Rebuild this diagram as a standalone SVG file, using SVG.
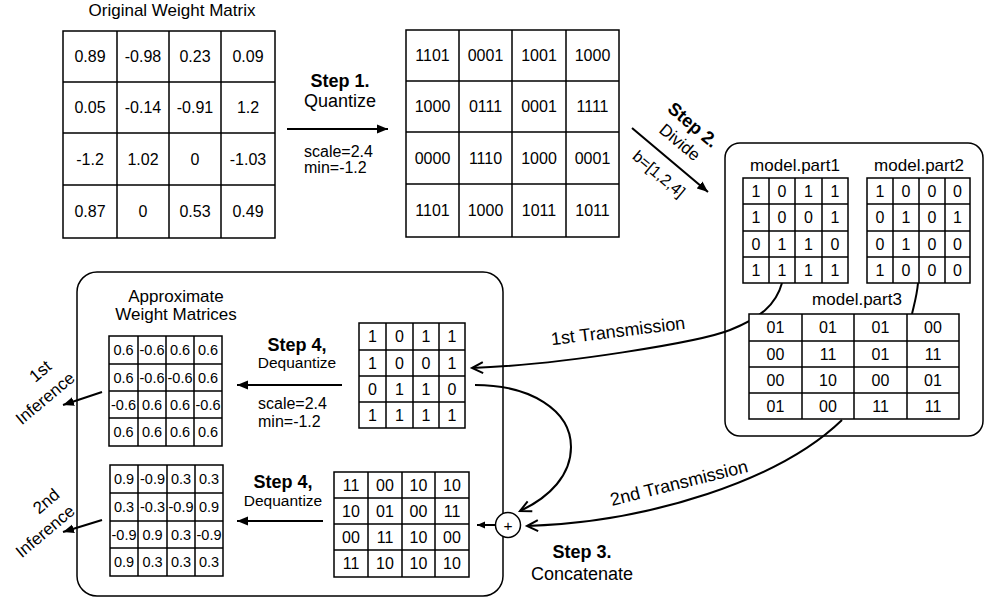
<svg xmlns="http://www.w3.org/2000/svg" width="985" height="601" viewBox="0 0 985 601">
<style>
text { font-family: "Liberation Sans", Arial, sans-serif; fill: #000; text-anchor: middle; }
.b { font-weight: bold; }
.s16 { font-size: 16px; }
.s15 { font-size: 15.5px; }
.s14 { font-size: 14.5px; }
.s17 { font-size: 17px; }
.s18 { font-size: 18px; }
.st { text-anchor: start; }
.cell { fill: #fff; stroke: #000; stroke-width: 1.5; }
.grid { fill: none; stroke: #000; stroke-width: 1.5; }
.box { fill: none; stroke: #000; stroke-width: 1.5; }
.ln { fill: none; stroke: #000; stroke-width: 2; }
</style>
<defs>
<marker id="fa" viewBox="-11 -5 12 10" refX="0" refY="0" markerWidth="12" markerHeight="10" markerUnits="userSpaceOnUse" orient="auto">
<path d="M-11,-4.5 L0,0 L-11,4.5 Z" fill="#000"/>
</marker>
<marker id="fs" viewBox="-8 -4 9 8" refX="0" refY="0" markerWidth="9" markerHeight="8" markerUnits="userSpaceOnUse" orient="auto">
<path d="M-8,-3.5 L0,0 L-8,3.5 Z" fill="#000"/>
</marker>
<marker id="oa" viewBox="-13 -7 15 14" refX="0" refY="0" markerWidth="15" markerHeight="14" markerUnits="userSpaceOnUse" orient="auto" overflow="visible">
<path d="M-11,-5.5 L0,0 L-11,5.5" fill="none" stroke="#000" stroke-width="2"/>
</marker>
</defs>
<rect width="985" height="601" fill="#fff"/>

<g id="box-receiver"><rect class="box" x="77" y="272" width="426" height="324" rx="20"/></g>
<g id="box-parts"><rect class="box" x="725" y="143" width="258" height="293" rx="15"/></g>

<g id="connectors">
<path class="ln" d="M287,129 L388,129" marker-end="url(#fa)"/>
<path class="ln" d="M632,128 L708,192" marker-end="url(#fa)"/>
<path class="ln" d="M782,283 C776,305 760,318 730,330 S560,365 472,368" marker-end="url(#oa)"/>
<path class="ln" d="M918,283 C917,295 914,305 912,314"/>
<path class="ln" d="M842,420 C780,480 650,522 527,526" marker-end="url(#oa)"/>
<path class="ln" d="M475,385 C530,385 571,410 571,447 C571,475 550,497 520,511" marker-end="url(#oa)"/>
<path class="ln" d="M342,385 L237,385" marker-end="url(#fa)"/>
<path class="ln" d="M323,521 L237,521" marker-end="url(#fa)"/>
<path class="ln" d="M495,525 L477,525" marker-end="url(#fs)"/>
<path class="ln" d="M102,392 L63,405" marker-end="url(#fa)"/>
<path class="ln" d="M102,520 L63,532" marker-end="url(#fa)"/>
</g>

<g id="labels">
<text class="s17" x="172" y="16">Original Weight Matrix</text>
<text class="s18 b" x="340" y="87">Step 1.</text>
<text class="s18" x="340" y="107">Quantize</text>
<text class="s16 st" x="304" y="157">scale=2.4</text>
<text class="s16 st" x="304" y="173">min=-1.2</text>
<text class="s18 b" transform="translate(693,125) rotate(40)" y="6">Step 2.</text>
<text class="s17" transform="translate(680,142) rotate(40)" y="6">Divide</text>
<text class="s16" transform="translate(659,174) rotate(40)" y="5.5">b=[1,2,4]</text>
<text class="s17" x="795" y="171">model.part1</text>
<text class="s17" x="919" y="171">model.part2</text>
<text class="s17" x="857" y="305">model.part3</text>
<text class="s18" transform="translate(618,331) rotate(-7)" y="6">1st Transmission</text>
<text class="s18" transform="translate(679,483) rotate(-14)" y="6">2nd Transmission</text>
<text class="s18 b" x="582" y="558">Step 3.</text>
<text class="s18" x="582" y="580">Concatenate</text>
<text class="s17" x="176" y="302">Approximate</text>
<text class="s17" x="176" y="320">Weight Matrices</text>
<text class="s18 b" x="297" y="351">Step 4,</text>
<text class="s15" x="297" y="368">Dequantize</text>
<text class="s16 st" x="258" y="409">scale=2.4</text>
<text class="s16 st" x="258" y="427">min=-1.2</text>
<text class="s18 b" x="283" y="488">Step 4,</text>
<text class="s15" x="283" y="506">Dequantize</text>
<text class="s17" transform="translate(40,371) rotate(-40)" y="6">1st</text>
<text class="s17" transform="translate(45,398) rotate(-40)" y="6">Inference</text>
<text class="s17" transform="translate(46,501) rotate(-40)" y="6">2nd</text>
<text class="s17" transform="translate(45,531) rotate(-40)" y="6">Inference</text>
</g>

<g id="plus">
<circle cx="508" cy="525" r="12.5" fill="#fff" stroke="#000" stroke-width="1.5"/>
<text class="s15" x="508" y="530.5">+</text>
</g>

<g id="matrix-original" class="s16">
<rect class="cell" x="63" y="31" width="212" height="207"/>
<path class="grid" d="M117,31V238 M169,31V238 M221,31V238 M63,82H275 M63,133H275 M63,185H275"/>
<text x="90" y="62">0.89</text><text x="143" y="62">-0.98</text><text x="195" y="62">0.23</text><text x="248" y="62">0.09</text>
<text x="90" y="113">0.05</text><text x="143" y="113">-0.14</text><text x="195" y="113">-0.91</text><text x="248" y="113">1.2</text>
<text x="90" y="164.5">-1.2</text><text x="143" y="164.5">1.02</text><text x="195" y="164.5">0</text><text x="248" y="164.5">-1.03</text>
<text x="90" y="217">0.87</text><text x="143" y="217">0</text><text x="195" y="217">0.53</text><text x="248" y="217">0.49</text>
</g>

<g id="matrix-quantized" class="s16">
<rect class="cell" x="406" y="30" width="213" height="207"/>
<path class="grid" d="M459,30V237 M512,30V237 M566,30V237 M406,81H619 M406,132H619 M406,184H619"/>
<text x="432.5" y="61">1101</text><text x="485.5" y="61">0001</text><text x="539" y="61">1001</text><text x="592.5" y="61">1000</text>
<text x="432.5" y="112">1000</text><text x="485.5" y="112">0111</text><text x="539" y="112">0001</text><text x="592.5" y="112">1111</text>
<text x="432.5" y="163.5">0000</text><text x="485.5" y="163.5">1110</text><text x="539" y="163.5">1000</text><text x="592.5" y="163.5">0001</text>
<text x="432.5" y="216">1101</text><text x="485.5" y="216">1000</text><text x="539" y="216">1011</text><text x="592.5" y="216">1011</text>
</g>

<g id="model-part1" class="s16">
<rect class="cell" x="743" y="178" width="105" height="105"/>
<path class="grid" d="M769,178V283 M795,178V283 M822,178V283 M743,204H848 M743,231H848 M743,257H848"/>
<text x="756" y="196.6">1</text><text x="782" y="196.6">0</text><text x="808.5" y="196.6">1</text><text x="835" y="196.6">1</text>
<text x="756" y="223">1</text><text x="782" y="223">0</text><text x="808.5" y="223">0</text><text x="835" y="223">1</text>
<text x="756" y="249.6">0</text><text x="782" y="249.6">1</text><text x="808.5" y="249.6">1</text><text x="835" y="249.6">0</text>
<text x="756" y="275.6">1</text><text x="782" y="275.6">1</text><text x="808.5" y="275.6">1</text><text x="835" y="275.6">1</text>
</g>

<g id="model-part2" class="s16">
<rect class="cell" x="867" y="178" width="103" height="105"/>
<path class="grid" d="M893,178V283 M919,178V283 M945,178V283 M867,204H970 M867,231H970 M867,257H970"/>
<text x="880" y="196.6">1</text><text x="906" y="196.6">0</text><text x="932" y="196.6">0</text><text x="957.5" y="196.6">0</text>
<text x="880" y="223">0</text><text x="906" y="223">1</text><text x="932" y="223">0</text><text x="957.5" y="223">1</text>
<text x="880" y="249.6">0</text><text x="906" y="249.6">1</text><text x="932" y="249.6">0</text><text x="957.5" y="249.6">0</text>
<text x="880" y="275.6">1</text><text x="906" y="275.6">0</text><text x="932" y="275.6">0</text><text x="957.5" y="275.6">0</text>
</g>

<g id="model-part3" class="s16">
<rect class="cell" x="749" y="314" width="210" height="105"/>
<path class="grid" d="M802,314V419 M854,314V419 M907,314V419 M749,341H959 M749,367H959 M749,393H959"/>
<text x="775.5" y="333">01</text><text x="828" y="333">01</text><text x="880.5" y="333">01</text><text x="933" y="333">00</text>
<text x="775.5" y="359.5">00</text><text x="828" y="359.5">11</text><text x="880.5" y="359.5">01</text><text x="933" y="359.5">11</text>
<text x="775.5" y="385.5">00</text><text x="828" y="385.5">10</text><text x="880.5" y="385.5">00</text><text x="933" y="385.5">01</text>
<text x="775.5" y="411.5">01</text><text x="828" y="411.5">00</text><text x="880.5" y="411.5">11</text><text x="933" y="411.5">11</text>
</g>

<g id="received-part1" class="s16">
<rect class="cell" x="359" y="323" width="106" height="105"/>
<path class="grid" d="M386,323V428 M413,323V428 M439,323V428 M359,350H465 M359,376H465 M359,402H465"/>
<text x="372.5" y="342">1</text><text x="399.5" y="342">0</text><text x="426" y="342">1</text><text x="452" y="342">1</text>
<text x="372.5" y="368.5">1</text><text x="399.5" y="368.5">0</text><text x="426" y="368.5">0</text><text x="452" y="368.5">1</text>
<text x="372.5" y="394.5">0</text><text x="399.5" y="394.5">1</text><text x="426" y="394.5">1</text><text x="452" y="394.5">0</text>
<text x="372.5" y="420.5">1</text><text x="399.5" y="420.5">1</text><text x="426" y="420.5">1</text><text x="452" y="420.5">1</text>
</g>

<g id="concatenated" class="s16">
<rect class="cell" x="334" y="472" width="135" height="105"/>
<path class="grid" d="M368,472V577 M402,472V577 M435,472V577 M334,498H469 M334,524H469 M334,550H469"/>
<text x="351" y="490.5">11</text><text x="385" y="490.5">00</text><text x="418.5" y="490.5">10</text><text x="452" y="490.5">10</text>
<text x="351" y="516.5">10</text><text x="385" y="516.5">01</text><text x="418.5" y="516.5">00</text><text x="452" y="516.5">11</text>
<text x="351" y="542.5">00</text><text x="385" y="542.5">11</text><text x="418.5" y="542.5">10</text><text x="452" y="542.5">00</text>
<text x="351" y="569">11</text><text x="385" y="569">10</text><text x="418.5" y="569">10</text><text x="452" y="569">10</text>
</g>

<g id="approx-1" class="s14">
<rect class="cell" x="109" y="336" width="113" height="110"/>
<path class="grid" d="M138,336V446 M166,336V446 M194,336V446 M109,364H222 M109,391H222 M109,418H222"/>
<text x="123.5" y="355">0.6</text><text x="152" y="355">-0.6</text><text x="180" y="355">0.6</text><text x="208" y="355">0.6</text>
<text x="123.5" y="382.5">0.6</text><text x="152" y="382.5">-0.6</text><text x="180" y="382.5">-0.6</text><text x="208" y="382.5">0.6</text>
<text x="123.5" y="409.5">-0.6</text><text x="152" y="409.5">0.6</text><text x="180" y="409.5">0.6</text><text x="208" y="409.5">-0.6</text>
<text x="123.5" y="437">0.6</text><text x="152" y="437">0.6</text><text x="180" y="437">0.6</text><text x="208" y="437">0.6</text>
</g>

<g id="approx-2" class="s14">
<rect class="cell" x="110" y="465" width="113" height="111"/>
<path class="grid" d="M138,465V576 M167,465V576 M195,465V576 M110,493H223 M110,521H223 M110,548H223"/>
<text x="124" y="484">0.9</text><text x="152.5" y="484">-0.9</text><text x="181" y="484">0.3</text><text x="209" y="484">0.3</text>
<text x="124" y="512">0.3</text><text x="152.5" y="512">-0.3</text><text x="181" y="512">-0.9</text><text x="209" y="512">0.9</text>
<text x="124" y="539.5">-0.9</text><text x="152.5" y="539.5">0.9</text><text x="181" y="539.5">0.3</text><text x="209" y="539.5">-0.9</text>
<text x="124" y="567">0.9</text><text x="152.5" y="567">0.3</text><text x="181" y="567">0.3</text><text x="209" y="567">0.3</text>
</g>
</svg>
